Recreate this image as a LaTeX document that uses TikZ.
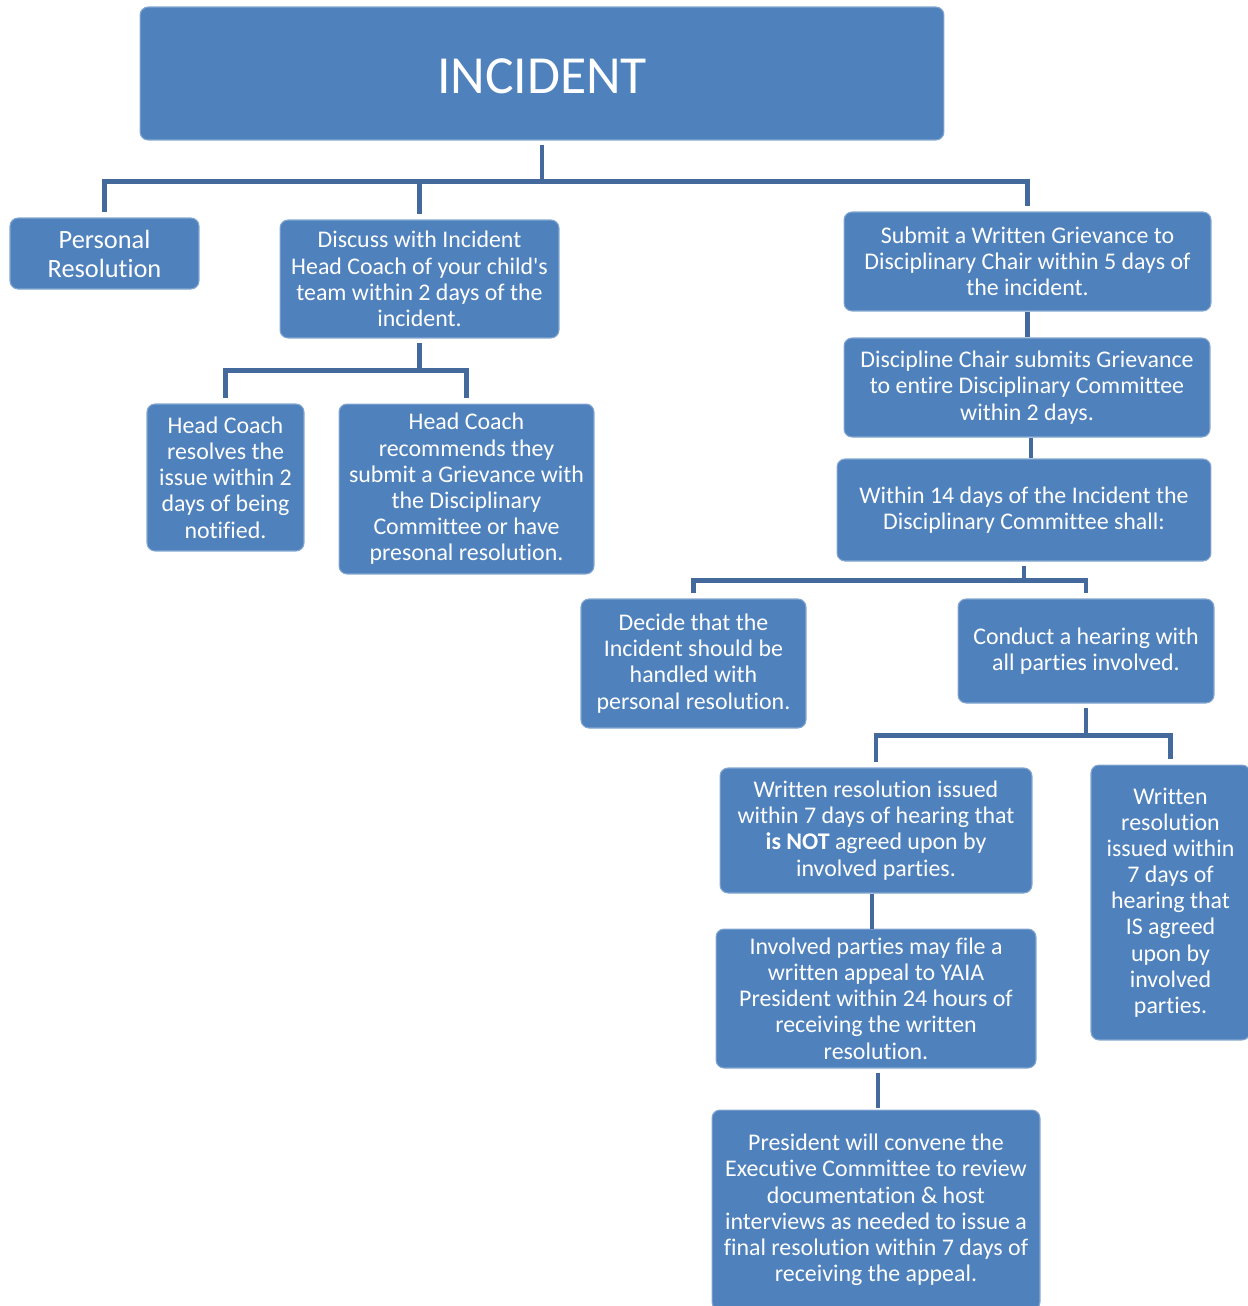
\documentclass[tikz,border=0pt]{standalone}
\usepackage{fontspec}
\setmainfont{Carlito}[Ligatures={TeXOff,NoCommon}]
\usetikzlibrary{positioning}

\definecolor{boxblue}{HTML}{4F81BD}
\definecolor{lineblue}{HTML}{44699C}

\tikzset{
  box/.style={fill=boxblue, draw=boxblue!70!white, line width=0.6pt, rounded corners=0.16cm,
    text=white, align=center, inner sep=0pt, font=\fontsize{13.6}{14.9}\selectfont},
  link/.style={draw=lineblue, line width=2.8pt, shorten >=0.11cm},
  trunk/.style={draw=lineblue, line width=2.8pt, shorten <=0.08cm},
  joint/.style={draw=lineblue, line width=2.8pt}
}

\begin{document}
\begin{tikzpicture}[x=0.02cm, y=-0.02cm]
            \useasboundingbox (0,0) rectangle (1248,1306);

            % top
            \node[box, minimum width=16.08cm, minimum height=2.66cm, text height=0.78cm, text depth=0cm,
              font=\fontsize{30.5}{34}\selectfont] (inc) at (542,73.5) {INCIDENT};

            % left branches
            \node[box, minimum width=3.78cm, minimum height=1.42cm, font=\fontsize{15}{16.5}\selectfont] (pers) at (104.5,253.5) {Personal\\Resolution};
            \node[box, minimum width=5.58cm, minimum height=2.36cm] (disc) at (419.5,279) {Discuss with Incident\\Head Coach of your child's\\team within 2 days of the\\incident.};
            \node[box, minimum width=3.14cm, minimum height=2.94cm] (hcres) at (225.5,477.5) {Head Coach\\resolves the\\issue within 2\\days of being\\notified.};
            \node[box, minimum width=5.10cm, minimum height=3.40cm] (hcrec) at (466.5,489) {Head Coach\\recommends they\\submit a Grievance with\\the Disciplinary\\Committee or have\\presonal resolution.};

            % grievance branch
            \node[box, minimum width=7.34cm, minimum height=1.98cm] (sub) at (1027.5,261.5) {Submit a Written Grievance to\\Disciplinary Chair within 5 days of\\the incident.};
            \node[box, minimum width=7.32cm, minimum height=1.98cm] (chair) at (1027,387.5) {Discipline Chair submits Grievance\\to entire Disciplinary Committee\\within 2 days.};
            \node[box, minimum width=7.48cm, minimum height=2.04cm] (within) at (1024,510) {Within 14 days of the Incident the\\Disciplinary Committee shall:};
            \node[box, minimum width=4.50cm, minimum height=2.58cm] (decide) at (693.5,663.5) {Decide that the\\Incident should be\\handled with\\personal resolution.};
            \node[box, minimum width=5.12cm, minimum height=2.08cm] (hearing) at (1086,651) {Conduct a hearing with\\all parties involved.};
            \node[box, minimum width=6.24cm, minimum height=2.50cm] (notagr) at (876,830.5) {Written resolution issued\\within 7 days of hearing that\\\textbf{is NOT} agreed upon by\\involved parties.};
            \node[box, minimum width=3.18cm, minimum height=5.50cm] (agr) at (1170.5,902.5) {Written\\resolution\\issued within\\7 days of\\hearing that\\IS agreed\\upon by\\involved\\parties.};
            \node[box, minimum width=6.40cm, minimum height=2.78cm] (appeal) at (876,998.5) {Involved parties may file a\\written appeal to YAIA\\President within 24 hours of\\receiving the written\\resolution.};
            \node[box, minimum width=6.56cm, minimum height=4.00cm] (pres) at (876,1210) {President will convene the\\Executive Committee to review\\documentation \& host\\interviews as needed to issue a\\final resolution within 7 days of\\receiving the appeal.};

            % connectors
            \draw[trunk] (inc.south) -- ++(0,41) coordinate (j1);
            \draw[link] (j1) -| (pers.north);
            \draw[link] (j1) -| (disc.north);
            \draw[link] (j1) -| (sub.north);

            \draw[trunk] (disc.south) -- ++(0,32) coordinate (j2);
            \draw[link] (j2) -| (hcres.north);
            \draw[link] (j2) -| (hcrec.north);

            \draw[joint] (sub.south) -- (sub.south |- chair.north);
            \draw[joint] ([xshift=0.08cm]chair.south) -- ([xshift=0.08cm]chair.south |- within.north);

            \draw[trunk] (within.south) -- ++(0,19) coordinate (j3);
            \draw[link] (j3) -| (decide.north);
            \draw[link] (j3) -| (hearing.north);

            \draw[trunk] (hearing.south) -- ++(0,32) coordinate (j4);
            \draw[link] (j4) -| (notagr.north);
            \draw[link] (j4) -| (agr.north);

            \draw[joint] ([xshift=-0.08cm]notagr.south) -- ([xshift=-0.08cm]notagr.south |- appeal.north);
            \draw[trunk, shorten >=0.04cm] ([xshift=0.04cm]appeal.south) -- ([xshift=0.04cm]appeal.south |- pres.north);
        \end{tikzpicture}
\end{document}
